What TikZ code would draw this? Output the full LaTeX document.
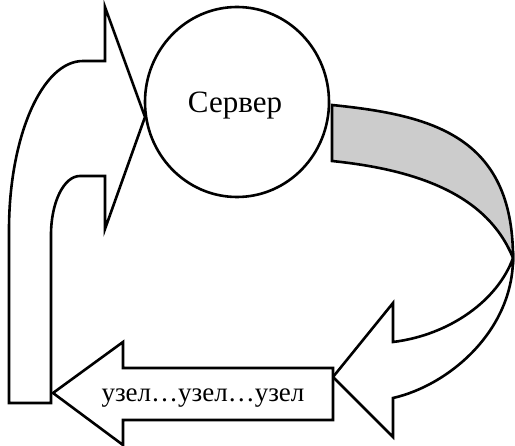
\documentclass[tikz,border=0pt]{standalone}
\usepackage{fontspec}
\setmainfont{Liberation Serif}
\begin{document}
\begin{tikzpicture}[x=1pt,y=-1pt,
  shp/.style={draw=black, line width=2.6pt, line join=miter, miter limit=20},
  lbl/.style={inner sep=0pt, anchor=base, font=\fontsize{31}{36}\selectfont},
  lblsmall/.style={inner sep=0pt, anchor=base, font=\fontsize{27}{32}\selectfont}]
\useasboundingbox (0,0) rectangle (515,446);
% up-turning arrow on the left
\draw[shp, fill=white] (9,403) -- (9,230) .. controls (9,137) and (42,61) .. (83,61)
  -- (105,61) -- (105,7) -- (145,117) -- (105,229) -- (105,176) -- (80,176)
  .. controls (64,176) and (51,202) .. (51,235) -- (51,403) -- cycle;
% server
\draw[shp] (237,102) ellipse [x radius=92, y radius=95];
\node[lbl] (srv) at (235,113) {Сервер};
% grey underside of the curved arrow
\draw[shp, fill=black!20] (332,161) -- (332,105)
  .. controls (430,115) and (513,135) .. (513,258)
  .. controls (488,196) and (420,170) .. (332,161) -- cycle;
% white part of the curved arrow
\draw[shp, fill=white] (513,258) .. controls (513,330) and (450,385) .. (393,398)
  -- (393,437) -- (333,377) -- (393,303) -- (393,342)
  .. controls (450,335) and (498,300) .. (513,258) -- cycle;
% left arrow with nodes text
\draw[shp, fill=white] (333,368) -- (123,368) -- (123,342) -- (53,393) -- (123,445)
  -- (123,420) -- (333,420) -- cycle;
\node[lblsmall] (nodes) at (203,402) {узел…узел…узел};
\end{tikzpicture}
\end{document}
